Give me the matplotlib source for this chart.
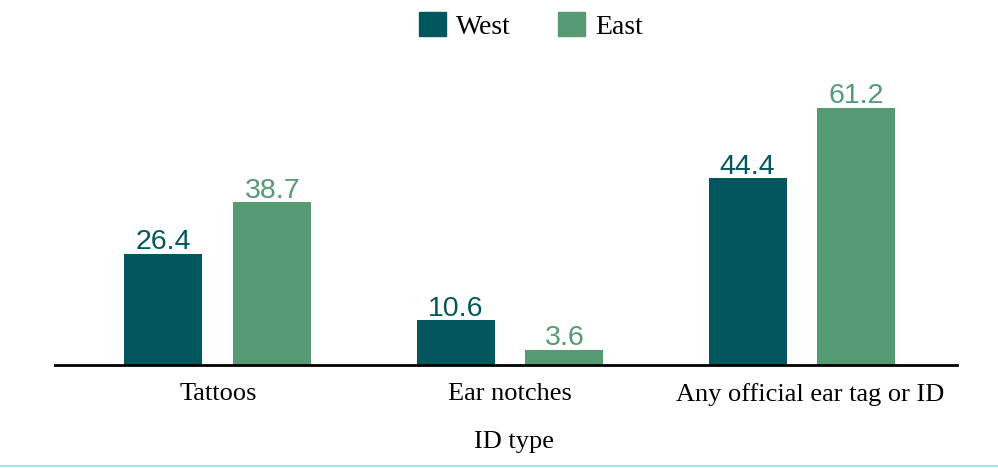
import matplotlib
matplotlib.use('Agg')
import matplotlib.pyplot as plt
import matplotlib.transforms as mtransforms
import numpy as np
from matplotlib.lines import Line2D
from matplotlib.patches import Patch

categories = ['Tattoos', 'Ear notches', 'Any official ear tag or ID']
west = [26.4, 10.6, 44.4]
east = [38.7, 3.6, 61.2]

WEST_C = '#02575E'
EAST_C = '#559A72'

fig = plt.figure(figsize=(9.98, 4.69), dpi=100)
ax = fig.add_axes([0.0551, 0.2217, 0.9039, 0.6503])

x = np.arange(len(categories))
w = 0.267
off = 0.1865
bw = ax.bar(x - off, west, w, color=WEST_C)
be = ax.bar(x + off, east, w, color=EAST_C)

for bars, vals, c in [(bw, west, WEST_C), (be, east, EAST_C)]:
    for b, v in zip(bars, vals):
        ax.text(b.get_x() + b.get_width() / 2, v - 0.3, f'{v:.1f}',
                ha='center', va='bottom', fontsize=20.5, color=c,
                family='Liberation Sans')

ax.set_xlim(-0.558, 2.531)
ax.set_ylim(0, 72.6)
for s in ['top', 'right', 'left']:
    ax.spines[s].set_visible(False)
ax.spines['bottom'].set_linewidth(2)
ax.set_yticks([])
ax.set_xticks(x)
ax.set_xticklabels(categories, family='Liberation Serif', fontsize=19)
ax.tick_params(axis='x', length=0, pad=13)
ax.set_xlabel('ID type', family='Liberation Serif', fontsize=19, labelpad=18)
ax.xaxis.label.set_x(0.509)

# last category label sits a little right of its group centre in the original
lbl = ax.get_xticklabels()[2]
lbl.set_transform(lbl.get_transform() + mtransforms.ScaledTranslation(0.08, 0, fig.dpi_scale_trans))

handles = [Patch(color=WEST_C, label='West'), Patch(color=EAST_C, label='East')]
fig.legend(handles=handles, loc='center', bbox_to_anchor=(0.532, 0.945), ncol=2,
           frameon=False, prop={'family': 'Liberation Serif', 'size': 20},
           handlelength=0.97, handleheight=0.97, columnspacing=1.7, handletextpad=0.35)

fig.add_artist(Line2D([0.0, 1.0], [0.006, 0.006], transform=fig.transFigure,
                      color='#8EDDF7', linewidth=1.2))

fig.savefig('out.png', dpi=100)
